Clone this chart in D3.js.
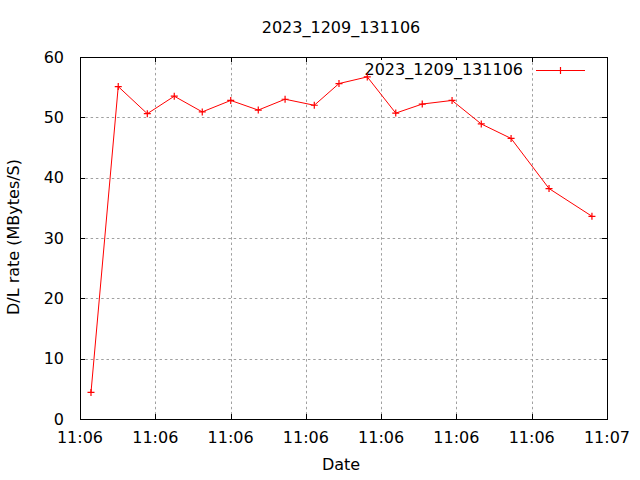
<!DOCTYPE html>
<html><head><meta charset="utf-8">
<script src="https://cdn.jsdelivr.net/npm/d3@7"></script>
<style>body{margin:0;background:#fff}svg{display:block}text{font-family:"DejaVu Sans",sans-serif;fill:#000}</style>
</head><body><svg id="c" width="640" height="480"></svg>
<script>
const title = "2023_1209_131106";
const seriesName = "2023_1209_131106";
const times = ["11:06:25.730","11:06:27.540","11:06:29.470","11:06:31.260","11:06:33.120","11:06:35.010",
  "11:06:36.840","11:06:38.620","11:06:40.560","11:06:42.200","11:06:44.080","11:06:45.970",
  "11:06:47.730","11:06:49.710","11:06:51.650","11:06:53.630","11:06:56.150","11:06:59.000"];
const rates = [4.4,55.1,50.6,53.5,50.9,52.8,51.2,53.0,52.0,55.6,56.7,50.7,52.2,52.8,48.9,46.5,38.2,33.6];
const xDomain = ["11:06:25.000","11:07:00.000"];
const yTicks = [0,10,20,30,40,50,60];
const xLabel = "Date", yLabel = "D/L rate (MBytes/S)";

const FS = 16;
const parse = d3.timeParse("%H:%M:%S.%L");
const data = times.map((t,i)=>({t:parse(t), v:rates[i]}));
const L=80,R=607,T=57,B=419;
const svg = d3.select("#c");
const x = d3.scaleTime().domain(xDomain.map(parse)).range([L,R]);
const y = d3.scaleLinear().domain([0,60]).range([B,T]);
const xTicks = x.ticks(d3.timeSecond.every(5));
const fmt = d3.timeFormat("%H:%M");

// grid
const grid = svg.append("g").attr("stroke","#a0a0a0").attr("stroke-width",1).attr("stroke-dasharray","2.5,2.8");
xTicks.slice(1,-1).forEach(t=>grid.append("line").attr("x1",Math.round(x(t))+0.5).attr("x2",Math.round(x(t))+0.5).attr("y1",T).attr("y2",B));
yTicks.slice(1,-1).forEach(v=>grid.append("line").attr("y1",Math.round(y(v))+0.5).attr("y2",Math.round(y(v))+0.5).attr("x1",L).attr("x2",R));

// ticks (inside, mirrored)
const tk = svg.append("g").attr("stroke","#000").attr("stroke-width",1);
xTicks.forEach(t=>{const px=Math.round(x(t))+0.5;
  tk.append("line").attr("x1",px).attr("x2",px).attr("y1",B).attr("y2",B-5);
  tk.append("line").attr("x1",px).attr("x2",px).attr("y1",T).attr("y2",T+5);});
yTicks.forEach(v=>{const py=Math.round(y(v))+0.5;
  tk.append("line").attr("x1",L).attr("x2",L+5).attr("y1",py).attr("y2",py);
  tk.append("line").attr("x1",R).attr("x2",R-5).attr("y1",py).attr("y2",py);});

// tick labels
svg.append("g").selectAll("text").data(xTicks).join("text")
  .attr("x",d=>x(d)).attr("y",443).attr("text-anchor","middle").attr("font-size",FS).text(fmt);
svg.append("g").selectAll("text").data(yTicks).join("text")
  .attr("x",64).attr("y",d=>y(d)+5.8).attr("text-anchor","end").attr("font-size",FS).text(d=>d);

// legend text with background
const legX=523, legY=75;
const legBg = svg.append("rect").attr("fill","#fff");
const lt = svg.append("text").attr("x",legX).attr("y",legY).attr("text-anchor","end").attr("font-size",FS).text(seriesName);
const bb = lt.node().getBBox();
legBg.attr("x",bb.x).attr("y",bb.y).attr("width",bb.width).attr("height",bb.height);

// line
svg.append("path").datum(data).attr("fill","none").attr("stroke","#f00").attr("stroke-width",1)
  .attr("d",d3.line().x(d=>x(d.t)).y(d=>y(d.v)));
const plus = (g,cx,cy)=>g.append("path").attr("d",`M${cx-3.5},${cy}H${cx+3.5}M${cx},${cy-3.5}V${cy+3.5}`)
  .attr("stroke","#f00").attr("stroke-width",1.2).attr("fill","none");
const mk = svg.append("g");
data.forEach(d=>plus(mk,x(d.t),y(d.v)));

// legend sample
svg.append("line").attr("x1",536).attr("x2",585).attr("y1",70.5).attr("y2",70.5).attr("stroke","#f00").attr("stroke-width",1);
plus(svg,560.5,70.5);

// frame
svg.append("rect").attr("x",L+0.5).attr("y",T+0.5).attr("width",R-L).attr("height",B-T)
  .attr("fill","none").attr("stroke","#000").attr("stroke-width",1);

// titles
svg.append("text").attr("x",341).attr("y",33).attr("text-anchor","middle").attr("font-size",FS).text(title);
svg.append("text").attr("x",341).attr("y",470).attr("text-anchor","middle").attr("font-size",FS).text(xLabel);
svg.append("text").attr("transform","translate(19,237) rotate(-90)").attr("text-anchor","middle").attr("font-size",FS).text(yLabel);
</script></body></html>
